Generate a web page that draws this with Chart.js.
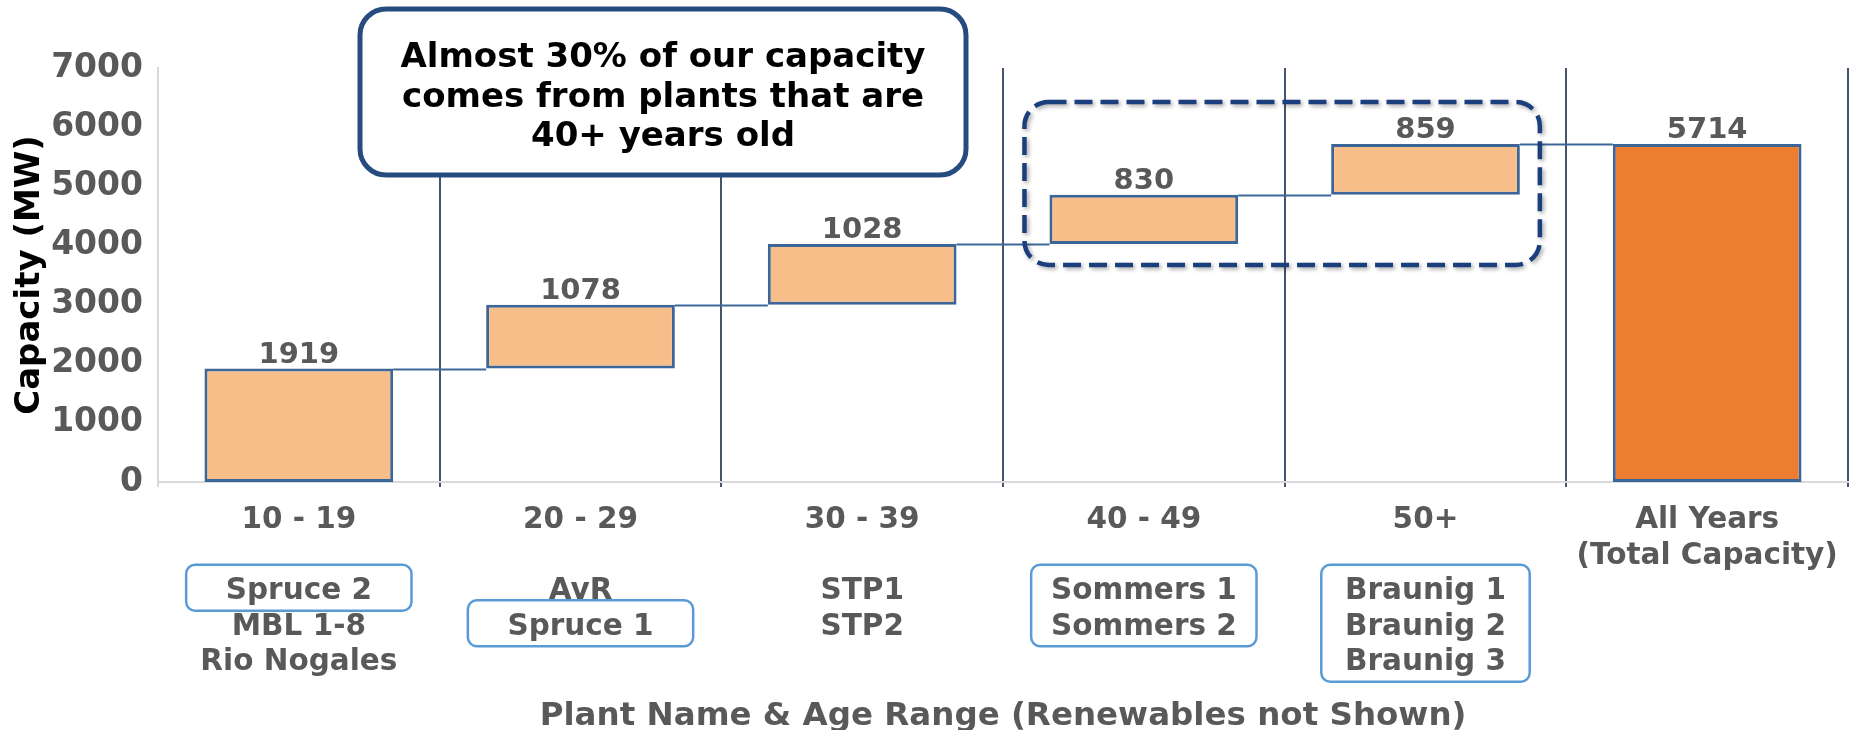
<!DOCTYPE html>
<html><head><meta charset="utf-8">
<script src="https://cdn.jsdelivr.net/npm/chart.js@4.4.1/dist/chart.umd.min.js"></script>
<style>html,body{margin:0;padding:0;background:#fff}#wrap{width:1856px;height:730px}</style>
</head><body><div id="wrap"><canvas id="c" width="1856" height="730"></canvas></div>
<script>
// ---------------- data ----------------
const ageRanges = ['10 - 19', '20 - 29', '30 - 39', '40 - 49', '50+'];
const totalLabel = ['All Years', '(Total Capacity)'];
const increments = [1919, 1078, 1028, 830, 859];
const totalCapacity = 5714;
const plantNames = [
  ['Spruce 2', 'MBL 1-8', 'Rio Nogales'],
  ['AvR', 'Spruce 1'],
  ['STP1', 'STP2'],
  ['Sommers 1', 'Sommers 2'],
  ['Braunig 1', 'Braunig 2', 'Braunig 3']
];
// boxed plant groups: [category index, first line, last line]
const boxedPlants = [[0, 0, 0], [1, 1, 1], [3, 0, 1], [4, 0, 2]];
const highlightedCategories = [3, 4];
const yTickMin = 0, yTickMax = 7000, yTickStep = 1000;
const calloutText = ['Almost 30% of our capacity', 'comes from plants that are', '40+ years old'];
const yTitle = 'Capacity (MW)';
const xTitle = 'Plant Name & Age Range (Renewables not Shown)';

// ---------------- derived ----------------
const labels = ageRanges.map((r, i) => [r, '', ...plantNames[i]]).concat([totalLabel]);
const ranges = [];
let run = 0;
increments.forEach(v => { ranges.push([run, run + v]); run += v; });
ranges.push([0, totalCapacity]);
const shownValues = increments.concat([totalCapacity]);

// ---------------- styles ----------------
const FONT = "'DejaVu Sans', Verdana, sans-serif";
const GREY = '#595959';
const BAR_BORDER = '#3D6698';
const TICK_LEN = 5, TICK_PAD = 16, LINE_H = 35.5;

const waterfallPlugin = {
  id: 'waterfall',
  beforeDatasetsDraw(chart) {
    const ctx = chart.ctx, meta = chart.getDatasetMeta(0), y = chart.scales.y;
    ctx.save();
    ctx.strokeStyle = BAR_BORDER; ctx.lineWidth = 2;
    for (let i = 0; i < meta.data.length - 1; i++) {
      const a = meta.data[i], b = meta.data[i + 1];
      const py = Math.round(y.getPixelForValue(ranges[i][1])) + 0.5;
      ctx.beginPath();
      ctx.moveTo(a.x + a.width / 2, py);
      ctx.lineTo(b.x - b.width / 2, py);
      ctx.stroke();
    }
    ctx.restore();
  },
  afterDatasetsDraw(chart) {
    const ctx = chart.ctx, meta = chart.getDatasetMeta(0), xs = chart.scales.x;
    ctx.save();
    // value labels
    ctx.font = "bold 29px " + FONT; ctx.fillStyle = GREY;
    ctx.textAlign = 'center'; ctx.textBaseline = 'alphabetic';
    meta.data.forEach((el, i) => { ctx.fillText(String(shownValues[i]), el.x, el.y - 6); });

    // dashed highlight around 40+ categories
    const b0 = meta.data[highlightedCategories[0]], b1 = meta.data[highlightedCategories[highlightedCategories.length - 1]];
    const hl = b0.x - b0.width / 2 - 25, hr = b1.x + b1.width / 2 + 20;
    const ht = b1.y - 42, hb = b0.base + 21;
    ctx.save();
    ctx.shadowColor = 'rgba(0,0,0,0.35)'; ctx.shadowBlur = 4; ctx.shadowOffsetX = 2; ctx.shadowOffsetY = 2;
    ctx.setLineDash([18, 8]); ctx.lineWidth = 4.5; ctx.strokeStyle = '#1B3F7D';
    ctx.beginPath(); ctx.roundRect(hl, ht, hr - hl, hb - ht, 24); ctx.stroke();
    ctx.restore();

    // callout box
    const cl = 360, cr = 966, ct = 9, cb = 175;
    ctx.save();
    ctx.fillStyle = '#fff'; ctx.strokeStyle = '#264B7E'; ctx.lineWidth = 5;
    ctx.beginPath(); ctx.roundRect(cl, ct, cr - cl, cb - ct, 26); ctx.fill(); ctx.stroke();
    ctx.fillStyle = '#000'; ctx.font = "bold 34px " + FONT; ctx.textAlign = 'center'; ctx.textBaseline = 'middle';
    const cx = (cl + cr) / 2, cy = (ct + cb) / 2, lh = 39.5;
    calloutText.forEach((t, i) => ctx.fillText(t, cx, cy + (i - (calloutText.length - 1) / 2) * lh + 6));
    ctx.restore();

    // boxes around plant names
    ctx.strokeStyle = '#5B9BD5'; ctx.lineWidth = 2.5;
    const boxW = [0.8, 0.8, 0.8, 0.8, 0.74];
    boxedPlants.forEach(([cat, f, l]) => {
      const px = xs.getPixelForTick(cat);
      const first = xs.top + TICK_LEN + TICK_PAD + LINE_H / 2;
      const yf = first + (f + 2) * LINE_H, yl = first + (l + 2) * LINE_H;
      const w = boxW[cat] * (xs.width / labels.length);
      ctx.beginPath(); ctx.roundRect(px - w / 2, yf - 27, w, yl - yf + 46, 9); ctx.stroke();
    });
    ctx.restore();
  }
};

new Chart(document.getElementById('c'), {
  type: 'bar',
  data: {
    labels: labels,
    datasets: [{
      data: ranges,
      backgroundColor: ranges.map((r, i) => i === ranges.length - 1 ? '#ED7D31' : '#F8BE8A'),
      borderColor: BAR_BORDER,
      borderWidth: 3,
      borderSkipped: false,
      barPercentage: 0.67,
      categoryPercentage: 1
    }]
  },
  options: {
    responsive: false,
    animation: false,
    devicePixelRatio: 1,
    layout: { padding: { top: 68, right: 8, left: 0, bottom: 0 } },
    plugins: { legend: { display: false }, tooltip: { enabled: false } },
    scales: {
      x: {
        afterFit(s) { s.height = 248; },
        grid: {
          offset: true,
          color: c => c.index === 0 ? '#D9D9D9' : '#44546A',
          lineWidth: 2,
          drawTicks: true,
          tickLength: TICK_LEN
        },
        border: { display: true, color: '#D9D9D9', width: 2 },
        ticks: {
          autoSkip: false, maxRotation: 0, minRotation: 0,
          padding: TICK_PAD,
          color: GREY,
          font: { family: FONT, weight: 'bold', size: 29.5, lineHeight: LINE_H + 'px' }
        },
        title: {
          display: true, text: xTitle, color: GREY,
          font: { family: FONT, weight: 'bold', size: 32.5, lineHeight: 0.85 },
          padding: { top: 0, bottom: 0 }
        }
      },
      y: {
        min: yTickMin, max: yTickMax,
        afterFit(s) { s.width = 158; },
        grid: { display: false, drawTicks: false },
        border: { display: true, color: '#D9D9D9', width: 2 },
        ticks: {
          stepSize: yTickStep, padding: 15, color: GREY,
          callback: v => String(v),
          font: { family: FONT, weight: 'bold', size: 33 }
        },
        title: {
          display: true, text: yTitle, color: '#000',
          font: { family: FONT, weight: 'bold', size: 34 },
          padding: { top: 9.5, bottom: 0 }
        }
      }
    }
  },
  plugins: [waterfallPlugin]
});
</script></body></html>
